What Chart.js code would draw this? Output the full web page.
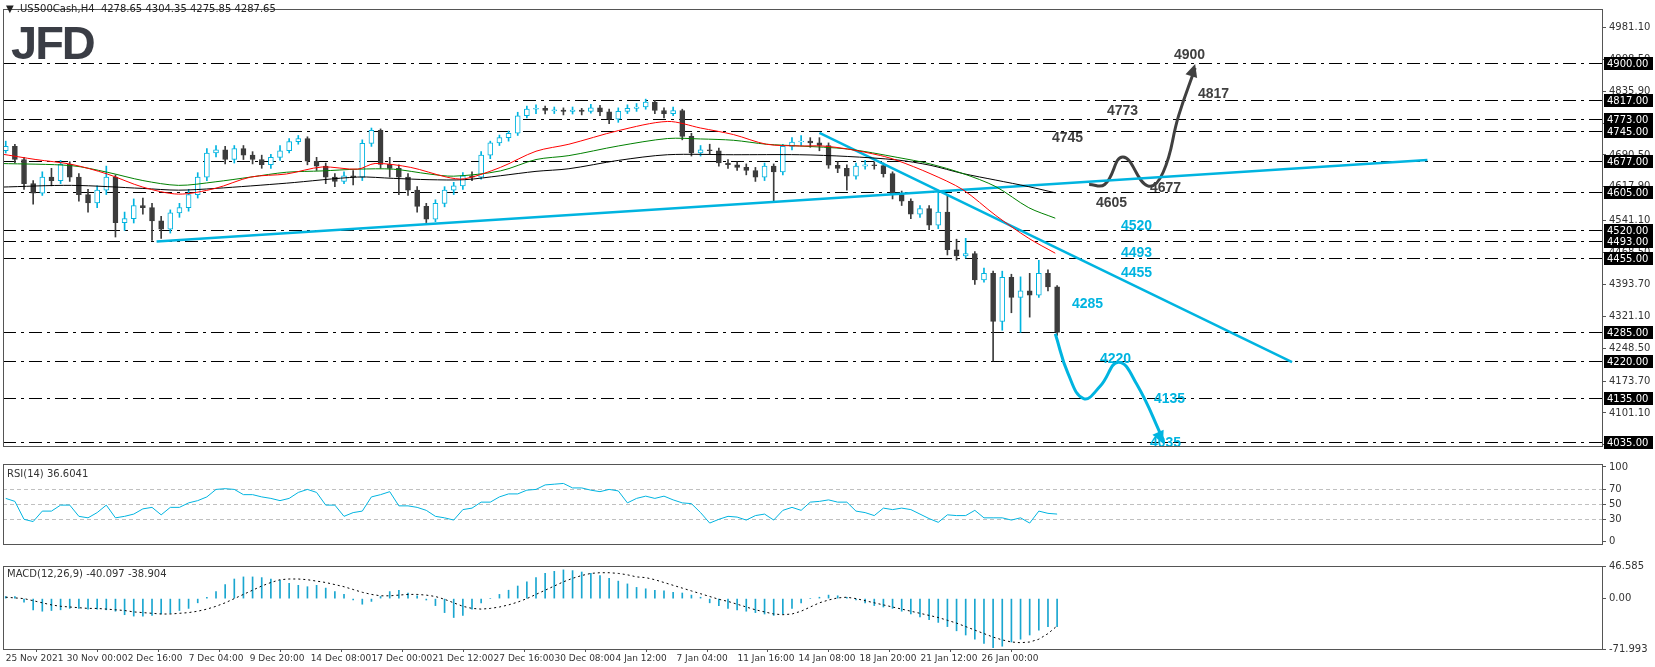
<!DOCTYPE html>
<html>
<head>
<meta charset="utf-8">
<script src="https://cdn.jsdelivr.net/npm/chart.js@4.4.1/dist/chart.umd.min.js"></script>
<style>
  body { margin: 0; background: #fff; width: 1655px; height: 667px; overflow: hidden; font-family: "DejaVu Sans", sans-serif; }
  .box { position: absolute; left: 0; width: 1655px; }
  #head { position: absolute; left: 6px; top: 3px; font-size: 10px; color: #222; z-index: 5; }
  #logo { position: absolute; left: 11px; top: 15px; font: bold 47px "Liberation Sans", Arial, sans-serif; color: #3a3d45; letter-spacing: -2px; z-index: 5; }
</style>
</head>
<body>
<div id="head">&#9660; .US500Cash,H4&nbsp; 4278.65 4304.35 4275.85 4287.65</div>
<div id="logo">JFD</div>
<div class="box" style="top:0;height:455px"><canvas id="main"></canvas></div>
<div class="box" style="top:455px;height:98px"><canvas id="rsi"></canvas></div>
<div class="box" style="top:557px;height:110px"><canvas id="macd"></canvas></div>
<script>
// 12h-spaced candles
const closes = [4710,4680,4625,4603,4640,4632,4669,4640,4600,4581,
  4610,4640,4536,4545,4575,4570,4540,4521,4558,4570,
  4600,4640,4695,4702,4680,4705,4690,4680,4668,4685,
  4700,4721,4728,4676,4665,4640,4630,4643,4640,4717,
  4747,4669,4660,4640,4610,4573,4544,4580,4610,4620,
  4643,4640,4690,4718,4730,4740,4780,4795,4797,4792,
  4793,4790,4793,4790,4798,4789,4772,4790,4797,4800,
  4811,4792,4785,4792,4733,4695,4702,4700,4672,4668,
  4662,4655,4640,4665,4652,4710,4720,4722,4718,4712,
  4667,4660,4642,4665,4668,4666,4648,4600,4585,4555,
  4568,4530,4560,4474,4460,4465,4405,4420,4310,4411,
  4365,4380,4370,4420,4389,4285];
const highs = [4722,4715,4685,4632,4652,4660,4678,4675,4648,4612,
  4620,4665,4645,4560,4590,4592,4580,4550,4565,4580,
  4612,4650,4705,4712,4710,4712,4712,4698,4690,4692,
  4712,4728,4735,4732,4685,4672,4648,4652,4655,4725,
  4752,4750,4685,4668,4648,4618,4580,4588,4618,4628,
  4650,4652,4698,4722,4736,4745,4788,4802,4805,4802,
  4800,4798,4800,4797,4806,4804,4795,4798,4805,4808,
  4818,4815,4798,4800,4795,4740,4712,4715,4706,4680,
  4675,4670,4662,4672,4670,4715,4730,4735,4730,4730,
  4718,4675,4668,4672,4678,4675,4672,4652,4608,4590,
  4575,4575,4610,4600,4498,4500,4470,4432,4425,4425,
  4418,4412,4420,4450,4428,4392];
const lows = [4695,4672,4612,4578,4598,4620,4625,4630,4585,4560,
  4570,4600,4503,4518,4535,4555,4495,4500,4512,4548,
  4562,4592,4632,4686,4670,4672,4680,4670,4660,4660,
  4678,4695,4715,4668,4655,4625,4618,4625,4622,4632,
  4710,4660,4640,4600,4598,4560,4536,4538,4572,4600,
  4612,4632,4635,4682,4712,4722,4735,4775,4785,4784,
  4785,4782,4784,4782,4786,4780,4762,4765,4785,4790,
  4795,4785,4775,4780,4725,4688,4688,4692,4665,4660,
  4655,4645,4630,4632,4585,4645,4702,4712,4708,4700,
  4660,4650,4610,4635,4658,4658,4640,4590,4575,4545,
  4548,4520,4522,4462,4450,4455,4395,4400,4220,4290,
  4330,4285,4320,4365,4380,4278];
const firstOpen = 4700;

// moving averages [index, price]
const maRed = [[-0.6,4693],[3.3,4680],[7.2,4669],[11.1,4647],[15,4617],[18.9,4601],[22.9,4614],[26.8,4640],[30.7,4647],[34.6,4663],[38.5,4658],[40.4,4671],[44.3,4662],[48.2,4640],[50.2,4636],[54.1,4662],[58,4699],[61.6,4715],[67,4746],[72.4,4767],[76,4752],[79.6,4737],[83.2,4715],[86.8,4711],[89.3,4711],[92.1,4704],[95.7,4689],[97.5,4678],[101.1,4648],[104.7,4611],[108.3,4552],[111.9,4500],[114.8,4466]];
const maGreen = [[-0.6,4671],[7.2,4666],[11.1,4651],[15,4632],[18.9,4621],[22.9,4629],[26.8,4640],[30.7,4651],[34.6,4654],[38.5,4658],[42.4,4658],[46.3,4647],[49,4642],[54.1,4654],[58,4680],[61.6,4689],[67,4711],[72.4,4728],[76,4727],[79.6,4724],[83.2,4715],[86.8,4711],[92.1,4704],[97.5,4685],[101.1,4670],[104.7,4648],[108.3,4618],[111.9,4570],[114.8,4546]];
const maBlack = [[-0.6,4617],[7.2,4621],[15,4614],[18.9,4610],[22.9,4614],[30.7,4626],[38.5,4640],[42.4,4637],[46.3,4634],[50.2,4634],[54.1,4643],[58,4653],[61.6,4659],[67,4678],[72.4,4691],[79.6,4691],[86.8,4691],[92.1,4687],[97.5,4679],[101.1,4667],[104.7,4648],[108.3,4633],[111.9,4618],[114.8,4604]];

// drawn trend lines and scenario paths [index, price]
const upTrend = [[16.5,4493],[155.5,4679]];
const downTrend = [[89,4741],[140.7,4217]];
const bullPath = [[118.5,4623],[120.2,4623],[122.2,4686],[124.9,4620],[126.6,4651],[128.3,4781],[130.1,4889]];
const bearPath = [[114.8,4282],[116.2,4191],[117.9,4134],[119.7,4162],[121.7,4217],[123.7,4167],[126.6,4040]];

const levels = [4900,4817,4773,4745,4677,4605,4520,4493,4455,4285,4220,4135,4035];
const priceTicks = [4981.1,4908.5,4835.9,4763.3,4690.5,4617.9,4541.1,4468.5,4393.7,4321.1,4248.5,4173.7,4101.1,4028.9];

const rsi = [58,54,30,27,41,41,49,49,34,32,
  39,49,32,34,37,44,46,36,46,46,
  52,55,60,70,71,70,63,63,60,58,
  55,58,66,70,66,49,49,34,39,41,
  60,63,67,48,48,46,42,34,32,29,
  43,45,53,53,60,64,64,69,70,76,
  77,78,72,72,69,67,70,68,52,58,
  61,58,61,56,52,51,39,25,30,34,
  33,29,35,37,29,42,46,42,53,54,
  56,53,53,41,39,35,45,43,45,43,
  37,31,26,36,35,35,42,32,32,32,
  29,32,25,41,38,37];
const macdHist = [3,3,-5,-16,-18,-17,-16,-14,-14,-15,
  -15,-16,-18,-23,-25,-25,-24,-22,-21,-17,
  -14,-6,2,10,20,28,31,31,30,28,
  26,22,19,17,19,15,10,6,-2,-8,
  -4,3,10,12,8,4,-2,-10,-20,-27,
  -24,-15,-6,0,6,12,18,24,30,36,
  39,41,40,38,36,33,29,25,21,16,
  14,12,11,9,8,5,2,-6,-10,-14,
  -16,-18,-20,-22,-24,-22,-14,-6,0,2,
  5,4,2,-2,-6,-10,-12,-14,-18,-22,
  -26,-30,-34,-40,-46,-52,-58,-64,-70,-68,
  -62,-58,-52,-45,-40,-40];
const macdSignal = [2,1,0,-3,-6,-9,-11,-12,-13,-14,
  -14,-15,-16,-17,-19,-20,-21,-22,-22,-21,
  -20,-18,-15,-11,-6,0,6,12,18,23,
  27,28,28,27,25,23,20,17,13,9,
  6,4,4,5,6,6,5,3,-1,-6,
  -11,-14,-15,-14,-12,-9,-5,0,6,12,
  18,24,29,33,36,37,37,36,34,31,
  30,27,23,19,15,11,7,3,-1,-4,
  -8,-12,-16,-19,-22,-23,-22,-18,-12,-6,
  -2,1,2,0,-3,-6,-9,-12,-15,-18,
  -21,-24,-27,-31,-35,-40,-45,-50,-55,-59,
  -62,-63,-62,-58,-50,-39];

const dateLabels = ["25 Nov 2021","30 Nov 00:00","2 Dec 16:00","7 Dec 04:00","9 Dec 20:00","14 Dec 08:00","17 Dec 00:00","21 Dec 12:00","27 Dec 16:00","30 Dec 08:00","4 Jan 12:00","7 Jan 04:00","11 Jan 16:00","14 Jan 08:00","18 Jan 20:00","21 Jan 12:00","26 Jan 00:00"];
const labelStep = 6.67;

const X_MIN = -0.3, X_MAX = 174.6;
const CYAN = "#00b4e0", DARK = "#3c3c3c", TXT = "#333";
const tickFont = { family: "DejaVu Sans", size: 10 };
const dateFont = { family: "DejaVu Sans", size: 9 };

const opens = closes.map((c, i) => i === 0 ? firstOpen : closes[i - 1]);
const bodies = closes.map((c, i) => {
  let a = Math.min(opens[i], c), b = Math.max(opens[i], c);
  if (b - a < 1.5) { a -= 0.8; b += 0.8; }
  return { x: i, y: [a, b] };
});
const bull = closes.map((c, i) => c > opens[i]);
const pts = arr => arr.map(p => ({ x: p[0], y: p[1] }));

function xScale(display) {
  return { type: "linear", min: X_MIN, max: X_MAX, display: display, offset: false };
}
function rightAxis(extra) {
  return Object.assign({
    position: "right",
    grid: { display: true, drawOnChartArea: false, drawTicks: true, tickLength: 4, color: "#555" },
    border: { display: false },
    afterFit: s => { s.width = 53; }
  }, extra);
}

const framePlugin = {
  id: "frame",
  afterDraw(chart) {
    const a = chart.chartArea, c = chart.ctx;
    c.save(); c.strokeStyle = "#555"; c.lineWidth = 1;
    c.strokeRect(a.left + 0.5, a.top + 0.5, a.right - a.left, a.bottom - a.top);
    c.restore();
  }
};

function arrowHead(c, x1, y1, x2, y2, color) {
  const ang = Math.atan2(y2 - y1, x2 - x1), s = 14;
  c.fillStyle = color; c.beginPath();
  c.moveTo(x2, y2);
  c.lineTo(x2 - s * Math.cos(ang - 0.45), y2 - s * Math.sin(ang - 0.45));
  c.lineTo(x2 - s * Math.cos(ang + 0.45), y2 - s * Math.sin(ang + 0.45));
  c.closePath(); c.fill();
}

const mainPlugin = {
  id: "mainDeco",
  beforeDatasetsDraw(chart) {
    const a = chart.chartArea, c = chart.ctx, y = chart.scales.y;
    c.save(); c.strokeStyle = "#000"; c.lineWidth = 1; c.setLineDash([13, 5, 3, 5]);
    levels.forEach(v => {
      const py = Math.round(y.getPixelForValue(v)) + 0.5;
      c.beginPath(); c.moveTo(a.left, py); c.lineTo(a.right, py); c.stroke();
    });
    c.restore();
  },
  afterDraw(chart) {
    const a = chart.chartArea, c = chart.ctx, x = chart.scales.x, y = chart.scales.y;
    c.save();
    // price level tags
    c.font = "10px DejaVu Sans"; c.textBaseline = "middle"; c.textAlign = "left";
    levels.forEach(v => {
      const py = Math.round(y.getPixelForValue(v));
      c.fillStyle = "#000"; c.fillRect(a.right + 2, py - 6, 49, 13);
      c.fillStyle = "#fff"; c.fillText(v.toFixed(2), a.right + 5, py + 1);
    });
    // arrow heads
    const b1 = bullPath[bullPath.length - 2], b2 = bullPath[bullPath.length - 1];
    arrowHead(c, x.getPixelForValue(b1[0]), y.getPixelForValue(b1[1]), x.getPixelForValue(b2[0]), y.getPixelForValue(b2[1]) - 4, "#404040");
    const r1 = bearPath[bearPath.length - 2], r2 = bearPath[bearPath.length - 1];
    arrowHead(c, x.getPixelForValue(r1[0]), y.getPixelForValue(r1[1]), x.getPixelForValue(r2[0]), y.getPixelForValue(r2[1]) + 4, CYAN);
    // annotation numbers
    c.font = "bold 14px 'Liberation Sans', Arial, sans-serif";
    const notes = [
      ["4900", 1174, 55, "#404040"], ["4817", 1198, 94, "#404040"], ["4773", 1107, 111, "#404040"],
      ["4745", 1052, 138, "#404040"], ["4677", 1150, 188, "#404040"], ["4605", 1096, 203, "#404040"],
      ["4520", 1121, 226, CYAN], ["4493", 1121, 253, CYAN], ["4455", 1121, 273, CYAN],
      ["4285", 1072, 304, CYAN], ["4220", 1100, 359, CYAN], ["4135", 1154, 399, CYAN], ["4035", 1150, 443, CYAN]
    ];
    notes.forEach(n => { c.fillStyle = n[3]; c.fillText(n[0], n[1], n[2]); });
    c.restore();
  }
};

const lineDs = (data, color, width, extra) => Object.assign({
  type: "line", data: pts(data), borderColor: color, borderWidth: width,
  pointRadius: 0, fill: false, tension: 0, order: 0
}, extra || {});

new Chart(document.getElementById("main"), {
  data: {
    datasets: [
      lineDs(maRed, "#ff0000", 1, { tension: 0.3 }),
      lineDs(maGreen, "#008000", 1, { tension: 0.3 }),
      lineDs(maBlack, "#000", 1, { tension: 0.3 }),
      { type: "bar", data: closes.map((c, i) => ({ x: i, y: [lows[i], highs[i]] })),
        backgroundColor: bull.map(b => b ? CYAN : DARK), barThickness: 1, grouped: false, order: 3 },
      { type: "bar", data: bodies, backgroundColor: bull.map(b => b ? "#fff" : DARK),
        borderColor: bull.map(b => b ? CYAN : DARK), borderWidth: 1, borderSkipped: false,
        barThickness: 5, grouped: false, order: 2 },
      lineDs(upTrend, CYAN, 2.5),
      lineDs(downTrend, CYAN, 2.5),
      lineDs(bullPath, "#404040", 3, { tension: 0.45 }),
      lineDs(bearPath, CYAN, 3, { tension: 0.45 })
    ]
  },
  options: {
    responsive: true, maintainAspectRatio: false, animation: false,
    layout: { padding: { left: 3, top: 7, bottom: 1, right: 0 } },
    plugins: { legend: { display: false }, tooltip: { enabled: false } },
    scales: {
      x: xScale(false),
      y: rightAxis({
        min: 4025.6, max: 5023.9,
        afterBuildTicks: s => { s.ticks = priceTicks.map(v => ({ value: v })); },
        ticks: { color: TXT, font: tickFont, padding: 3, callback: v => v.toFixed(2) }
      })
    }
  },
  plugins: [mainPlugin, framePlugin]
});

const rsiPlugin = {
  id: "rsiDeco",
  beforeDatasetsDraw(chart) {
    const a = chart.chartArea, c = chart.ctx, y = chart.scales.y;
    c.save(); c.strokeStyle = "#c0c0c0"; c.setLineDash([4, 3]);
    [30, 50, 70].forEach(v => {
      const py = Math.round(y.getPixelForValue(v)) + 0.5;
      c.beginPath(); c.moveTo(a.left, py); c.lineTo(a.right, py); c.stroke();
    });
    c.setLineDash([]); c.fillStyle = TXT; c.font = "10px DejaVu Sans"; c.textBaseline = "top";
    c.fillText("RSI(14) 36.6041", a.left + 4, a.top + 5);
    c.restore();
  }
};

new Chart(document.getElementById("rsi"), {
  type: "line",
  data: { datasets: [{ data: rsi.map((v, i) => ({ x: i, y: v })), borderColor: CYAN, borderWidth: 1, pointRadius: 0 }] },
  options: {
    responsive: true, maintainAspectRatio: false, animation: false,
    layout: { padding: { left: 3, top: 2, bottom: 1, right: 0 } },
    plugins: { legend: { display: false }, tooltip: { enabled: false } },
    scales: {
      x: xScale(false),
      y: rightAxis({
        min: -3, max: 104,
        afterBuildTicks: s => { s.ticks = [0, 30, 50, 70, 100].map(v => ({ value: v })); },
        ticks: { color: TXT, font: tickFont, padding: 3 }
      })
    }
  },
  plugins: [rsiPlugin, framePlugin]
});

const macdPlugin = {
  id: "macdDeco",
  afterDraw(chart) {
    const a = chart.chartArea, c = chart.ctx;
    c.save(); c.fillStyle = TXT; c.font = "10px DejaVu Sans"; c.textBaseline = "top";
    c.fillText("MACD(12,26,9) -40.097 -38.904", a.left + 4, a.top + 3);
    c.restore();
  }
};

new Chart(document.getElementById("macd"), {
  data: {
    datasets: [
      { type: "line", data: macdSignal.map((v, i) => ({ x: i, y: v })), borderColor: "#000", borderWidth: 1, borderDash: [2, 3], pointRadius: 0, order: 0 },
      { type: "bar", data: macdHist.map((v, i) => ({ x: i, y: v })), backgroundColor: "#1aa6d0", barThickness: 1, grouped: false, order: 1 }
    ]
  },
  options: {
    responsive: true, maintainAspectRatio: false, animation: false,
    layout: { padding: { left: 3, top: 2, bottom: 0, right: 0 } },
    plugins: { legend: { display: false }, tooltip: { enabled: false } },
    scales: {
      x: {
        type: "linear", min: X_MIN, max: X_MAX, offset: false,
        grid: { display: true, drawOnChartArea: false, drawTicks: true, tickLength: 3, color: "#555" },
        border: { display: false },
        afterBuildTicks: s => { s.ticks = dateLabels.map((d, i) => ({ value: i * labelStep })); },
        afterFit: s => { s.height = 18; },
        ticks: { color: TXT, font: dateFont, align: "start", maxRotation: 0, autoSkip: false, padding: 1,
          callback: (v, i) => dateLabels[i] }
      },
      y: rightAxis({
        min: -71.993, max: 46.585,
        afterBuildTicks: s => { s.ticks = [46.585, 0, -71.993].map(v => ({ value: v })); },
        ticks: { color: TXT, font: tickFont, padding: 3,
          callback: v => v === 0 ? "0.00" : v.toFixed(3) }
      })
    }
  },
  plugins: [macdPlugin, framePlugin]
});
</script>
</body>
</html>
